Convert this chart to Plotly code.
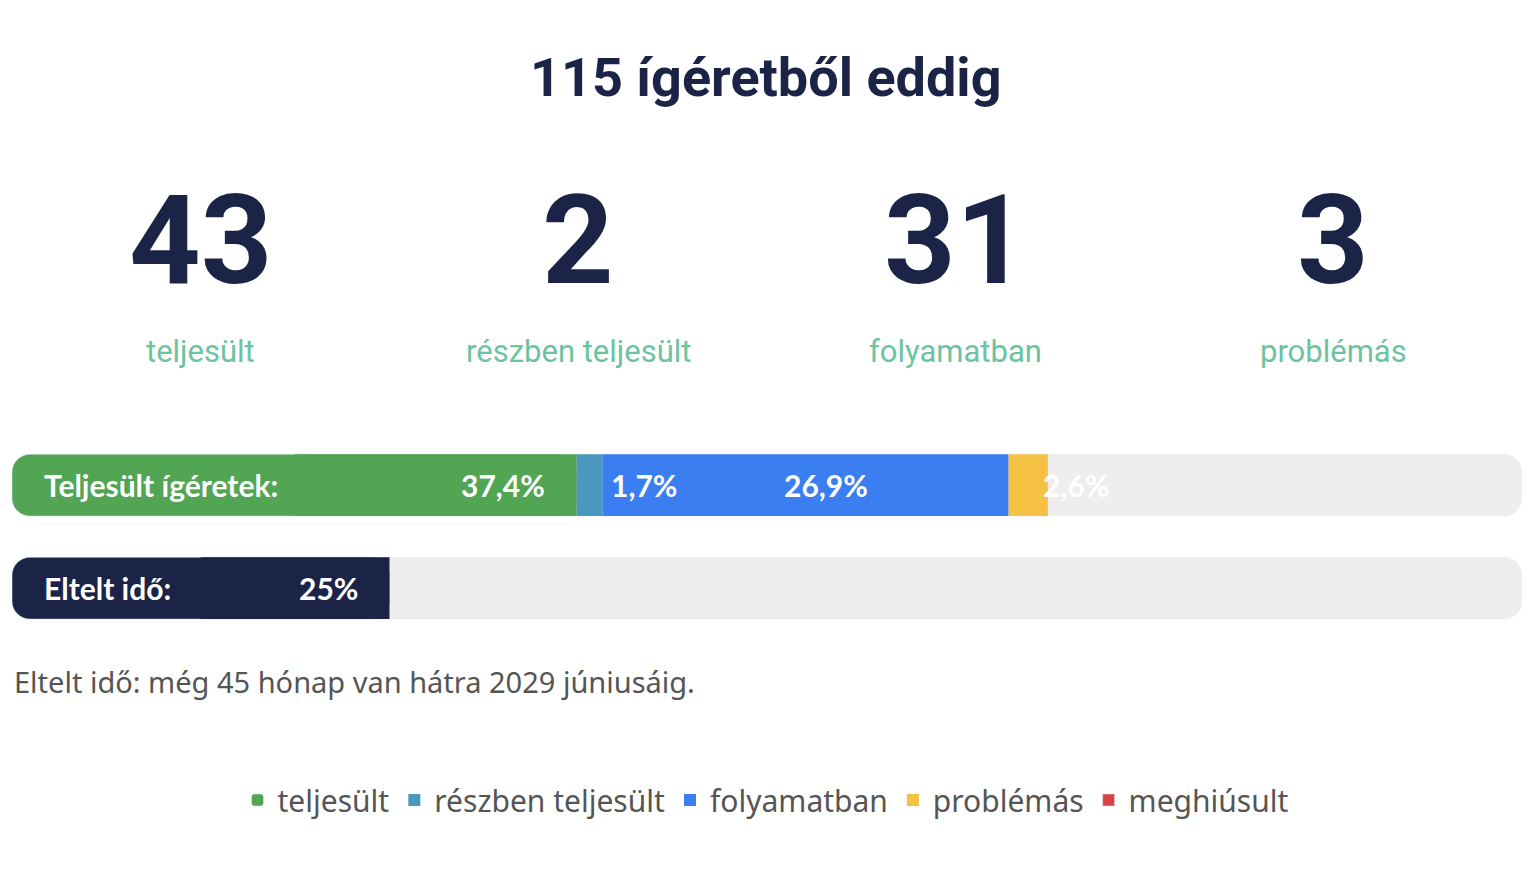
import plotly.graph_objects as go

counts = [43, 2, 31, 3]
count_labels = ["teljesült", "részben teljesült", "folyamatban", "problémás"]
status_names = ["teljesült", "részben teljesült", "folyamatban", "problémás", "meghiúsult"]
status_colors = ["#52a553", "#4a97bf", "#3a7ef2", "#f5c244", "#d9444a"]
promise_pct = [37.4, 1.7, 26.9, 2.6]
promise_labels = ["37,4%", "1,7%", "26,9%", "2,6%"]
elapsed_pct = 25
NAVY = "#1b2347"
TRACK = "#efedee"
FW, FH = 1536, 869
OX, OY = 8, 8


def px(x):
    return (x - OX) / FW


def py(y):
    return 1 - (y - OY) / FH


fig = go.Figure()
W = 0.6
fig.add_bar(y=[1, 0], x=[100, 100], base=[0, 0], orientation="h", width=W,
            marker=dict(color=TRACK, cornerradius=18), showlegend=False, hoverinfo="skip")


def left_rounded(yv, v, color, name=None):
    # rounded left end (reversed bar) plus square right half
    fig.add_bar(y=[yv], x=[-v], base=[v], orientation="h", width=W,
                marker=dict(color=color, cornerradius=18),
                name=name, showlegend=name is not None)
    fig.add_bar(y=[yv], x=[v / 2], base=[v / 2], orientation="h", width=W,
                marker=dict(color=color, line=dict(width=0)), showlegend=False, hoverinfo="skip")


cum = 0
for i, v in enumerate(promise_pct):
    if i == 0:
        left_rounded(1, v, status_colors[i], status_names[i])
    else:
        fig.add_bar(y=[1], x=[v], base=[cum], orientation="h", width=W,
                    marker=dict(color=status_colors[i], line=dict(width=0)),
                    name=status_names[i], showlegend=True)
    cum += v
fig.add_bar(y=[None], x=[None], orientation="h", marker=dict(color=status_colors[4]),
            name=status_names[4], showlegend=True)
left_rounded(0, elapsed_pct, NAVY)

ann = []
wf = dict(family="Lato, Roboto", size=30, color="white")
ann.append(dict(x=0, y=1, xref="x", yref="y", text="<b>Teljesült ígéretek:</b>", showarrow=False,
                xanchor="left", xshift=30, font=wf))
ann.append(dict(x=0, y=0, xref="x", yref="y", text="<b>Eltelt idő:</b>", showarrow=False,
                xanchor="left", xshift=30, font=wf))
ann.append(dict(x=elapsed_pct, y=0, xref="x", yref="y", text=f"<b>{elapsed_pct}%</b>", showarrow=False,
                xanchor="right", xshift=-30, font=wf))
c = 0
for i, v in enumerate(promise_pct):
    if i == 0:
        a = dict(x=c + v, xanchor="right", xshift=-30)
    elif i == 2:
        a = dict(x=c + v / 2, xanchor="center", xshift=20)
    else:
        a = dict(x=c, xanchor="left", xshift=32)
    a.update(y=1, xref="x", yref="y", text=f"<b>{promise_labels[i]}</b>", showarrow=False, font=wf)
    ann.append(a)
    c += v

ann.append(dict(x=px(766), y=py(78), xref="paper", yref="paper", text="<b>115 ígéretből eddig</b>",
                xanchor="center", yanchor="middle", showarrow=False,
                font=dict(family="Roboto", size=54, color=NAVY)))
xs = [200, 578, 955, 1333]
for xc, n, lab in zip(xs, counts, count_labels):
    ann.append(dict(x=px(xc), y=py(240), xref="paper", yref="paper", text=f"<b>{n}</b>",
                    xanchor="center", yanchor="middle", showarrow=False,
                    font=dict(family="Roboto", size=125, color=NAVY)))
    ann.append(dict(x=px(xc), y=py(352), xref="paper", yref="paper", text=lab,
                    xanchor="center", yanchor="middle", showarrow=False,
                    font=dict(family="Roboto", size=31, color="#6cc3a0")))
ann.append(dict(x=px(12), y=py(681), xref="paper", yref="paper", xanchor="left", yanchor="middle",
                text="Eltelt idő: még 45 hónap van hátra 2029 júniusáig.", showarrow=False,
                font=dict(family="Noto Sans", size=29, color="#555555")))

fig.update_layout(
    width=FW, height=FH, margin=dict(l=0, r=0, t=0, b=0),
    paper_bgcolor="white", plot_bgcolor="white", barmode="overlay",
    xaxis=dict(domain=[px(12), px(1522)], range=[0, 100], visible=False, fixedrange=True),
    yaxis=dict(domain=[py(650), py(430)], range=[-0.6, 1.536], visible=False),
    annotations=ann,
    legend=dict(orientation="h", x=px(766), xanchor="center", y=py(800), yanchor="middle",
                font=dict(family="Noto Sans", size=30, color="#555555"), itemwidth=30),
)
fig.write_html("out.html")
